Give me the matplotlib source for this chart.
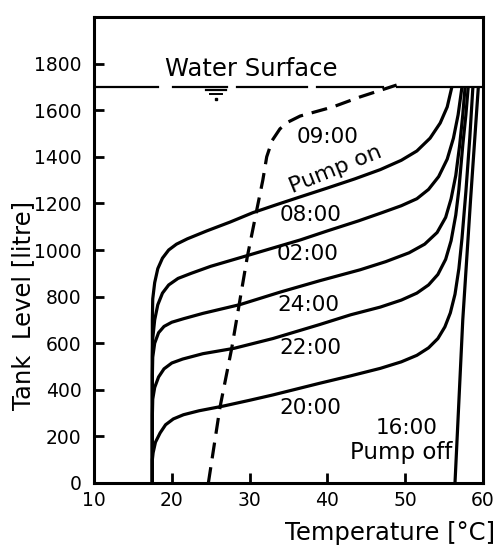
import matplotlib
matplotlib.use('Agg')
import matplotlib.pyplot as plt

# temperature profiles, temperature [C] vs tank level [litre]
T_0800 = [17.5, 17.5, 17.55, 17.8, 18.2, 18.8, 19.6, 20.6, 22.0, 24.5, 27.5, 30.4, 33.5, 36.5, 40.0,
          43.5, 46.8, 49.5, 51.5, 53.2, 54.5, 55.4, 56.0]
L_0800 = [0, 700, 790, 860, 920, 965, 1000, 1025, 1048, 1082, 1120, 1160, 1195, 1228, 1266,
          1305, 1345, 1385, 1425, 1480, 1545, 1614, 1700]

T_0200 = [17.5, 17.5, 17.55, 17.8, 18.2, 18.8, 19.6, 20.8, 22.5, 25.0, 30.0, 36.5, 40.0, 44.0,
          47.0, 49.5, 51.5, 53.0, 54.3, 55.4, 56.2, 56.8, 57.3]
L_0200 = [0, 540, 620, 700, 765, 815, 850, 878, 900, 930, 979, 1043, 1082, 1125,
          1160, 1190, 1220, 1260, 1315, 1390, 1480, 1580, 1700]

T_2400 = [17.5, 17.5, 17.55, 17.8, 18.3, 19.0, 20.0, 21.5, 24.0, 28.8, 34.0, 39.0, 44.2, 47.5,
          50.5, 52.5, 54.1, 55.2, 55.9, 56.5, 57.0, 57.4, 57.7]
L_2400 = [0, 460, 540, 600, 645, 672, 690, 705, 728, 766, 820, 868, 915, 950,
          988, 1025, 1075, 1140, 1220, 1320, 1450, 1580, 1700]

T_2200 = [17.5, 17.5, 17.55, 17.8, 18.3, 19.0, 20.0, 21.4, 24.0, 28.0, 33.0, 39.0, 43.0, 46.8,
          49.5, 51.5, 53.0, 54.2, 55.2, 55.9, 56.5, 56.9, 57.4, 57.8, 58.1]
L_2200 = [0, 290, 360, 410, 455, 490, 515, 532, 555, 578, 620, 680, 722, 755,
          785, 815, 850, 895, 960, 1040, 1150, 1260, 1450, 1580, 1700]

T_2000 = [17.5, 17.5, 17.6, 17.9, 18.5, 19.2, 20.2, 21.5, 23.5, 26.6, 30.0, 33.0, 39.0, 43.0,
          46.8, 49.5, 51.5, 53.0, 54.2, 55.1, 55.8, 56.4, 56.9, 57.3, 57.8, 58.3, 58.7]
L_2000 = [0, 100, 130, 175, 215, 250, 275, 293, 310, 330, 355, 378, 428, 460,
          492, 520, 548, 580, 620, 670, 730, 810, 920, 1050, 1250, 1480, 1700]

T_1600 = [56.4, 57.4, 58.4, 59.4]
L_1600 = [0, 700, 1215, 1700]

T_0900 = [24.7, 26.2, 27.7, 29.7, 31.0, 31.7, 32.2, 32.9, 33.9, 35.0, 36.5, 40.7, 44.2, 48.9]
L_0900 = [0, 326, 578, 970, 1185, 1300, 1400, 1470, 1520, 1550, 1575, 1614, 1657, 1708]

water_level = 1700
water_segs = [(10, 18.2), (20.2, 27.1), (28.4, 37.4), (38.7, 47.1), (48.9, 60)]

xticks = [10, 20, 30, 40, 50, 60]
yticks = [0, 200, 400, 600, 800, 1000, 1200, 1400, 1600, 1800]

# label text, T, L
labels = [('20:00', 37.8, 322), ('22:00', 37.8, 579), ('24:00', 37.6, 764),
          ('02:00', 37.5, 983), ('08:00', 37.8, 1150), ('09:00', 40.0, 1485),
          ('16:00', 50.2, 236)]

plt.rcParams['font.family'] = ['DejaVu Sans']
fig = plt.figure(figsize=(4.99, 5.46), dpi=100)
ax = fig.add_axes([94/499., 1-483/546., 389/499., 466/546.])

lw = 2.3
for T, L in [(T_0800, L_0800), (T_0200, L_0200), (T_2400, L_2400),
             (T_2200, L_2200), (T_2000, L_2000), (T_1600, L_1600)]:
    ax.plot(T, L, color='black', lw=lw, solid_capstyle='butt', solid_joinstyle='round')
ax.plot(T_0900, L_0900, color='black', lw=lw, dashes=(5, 2.8))

for a, b in water_segs:
    ax.plot([a, b], [water_level, water_level], color='black', lw=1.6)
# water level symbol
ax.plot([24.4, 27.0], [water_level-12, water_level-12], color='black', lw=1.6)
ax.plot([24.9, 26.5], [water_level-30, water_level-30], color='black', lw=1.4)
ax.plot([25.7], [water_level-50], 's', color='black', ms=2)
ax.text(30.2, 1775, 'Water Surface', fontsize=17.5, ha='center', va='center')

for txt, x, y in labels:
    ax.text(x, y, txt, fontsize=15.5, ha='center', va='center')
ax.text(49.5, 133, 'Pump off', fontsize=16.5, ha='center', va='center')
ax.text(41.1, 1345, 'Pump on', fontsize=16, ha='center', va='center', rotation=22)

ax.set_xlim(10, 60)
ax.set_ylim(0, 2000)
ax.set_xticks(xticks)
ax.set_yticks(yticks)
ax.tick_params(direction='in', length=7, width=2, labelsize=13.5, top=False, right=False)
ax.tick_params(axis='y', pad=9)
ax.tick_params(axis='x', pad=6)
for s in ax.spines.values():
    s.set_linewidth(2.2)

ax.set_ylabel('Tank  Level [litre]', fontsize=17.5, va='center')
ax.yaxis.set_label_coords(-0.183, 0.382)
ax.set_xlabel('Temperature [°C]', fontsize=17.5, va='center')
ax.xaxis.set_label_coords(0.76, -0.107)

fig.savefig('out.png', dpi=100)
